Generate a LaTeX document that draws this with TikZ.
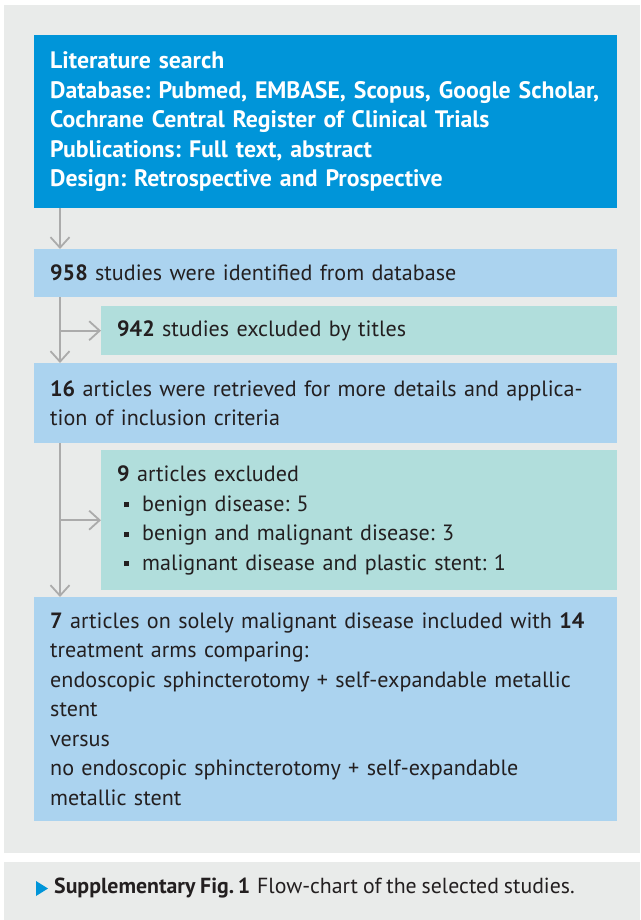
\documentclass[tikz,border=0pt]{standalone}
\usepackage{fontspec}
\setmainfont{PT Sans}[WordSpace=0.85]
\usetikzlibrary{arrows.meta}
\frenchspacing
\definecolor{topblue}{HTML}{0095D9}
\definecolor{lblue}{HTML}{ABD3EF}
\definecolor{lteal}{HTML}{B1DEDC}
\definecolor{panel}{HTML}{E9EBEA}
\definecolor{arrgray}{HTML}{ABABAB}
\definecolor{txt}{HTML}{231F20}
\tikzset{
  box/.style={anchor=north west, inner xsep=16pt, inner ysep=0pt, align=left,
    font=\fontsize{22.1}{29.5}\selectfont\frenchspacing, text=txt},
  widebox/.style={box, minimum width=583pt, text width=551pt},
  narrowbox/.style={box, minimum width=516pt, text width=484pt, fill=lteal},
  arr/.style={draw=arrgray, line width=1.8pt, -{Straight Barb[length=10.5pt,width=19pt]}},
}
\newcommand{\sqbul}{\hspace*{7pt}\rule[4pt]{5pt}{5pt}\hspace{13pt}}
\begin{document}
\begin{tikzpicture}[x=1pt,y=-1pt]
\useasboundingbox (0,0) rectangle (640,920);
\fill[white] (0,0) rectangle (640,920);
\fill[panel] (4,5) rectangle (640,853);
\fill[panel] (4,862) rectangle (640,920);

\node[widebox, fill=topblue, text=white, minimum height=173pt, font=\fontsize{23.8}{29.5}\selectfont\bfseries\frenchspacing] (top) at (34,35)
{Literature search\\
Database: Pubmed, EMBASE, Scopus, Google Scholar,\\
Cochrane Central Register of Clinical Trials\\
Publications: Full text, abstract\\
Design: Retrospective and Prospective};

\node[widebox, fill=lblue, minimum height=48pt] (n958) at (34,249)
{\textbf{958} studies were identified from database};

\node[narrowbox, minimum height=49pt] (n942) at (101,306)
{\textbf{942} studies excluded by titles};

\node[widebox, fill=lblue, minimum height=80pt] (n16) at (34,363)
{\textbf{16} articles were retrieved for more details and applica-\\
tion of inclusion criteria};

\node[narrowbox, minimum height=140pt] (n9) at (101,450)
{\textbf{9} articles excluded\\
\sqbul benign disease: 5\\
\sqbul benign and malignant disease: 3\\
\sqbul malignant disease and plastic stent: 1};

\node[widebox, fill=lblue, minimum height=224pt] (n7) at (34,597)
{\textbf{7} articles on solely malignant disease included with \textbf{14}\\
treatment arms comparing:\\
endoscopic sphincterotomy + self-expandable metallic\\
stent\\
versus\\
no endoscopic sphincterotomy + self-expandable\\
metallic stent};

\draw[arr] ([xshift=26pt]top.south west) -- ([xshift=26pt]n958.north west);
\draw[arr] ([xshift=26pt]n958.south west) -- ([xshift=26pt]n16.north west);
\draw[arr] ([xshift=26pt]n958.south west |- n942.west) -- (n942.west);
\draw[arr] ([xshift=26pt]n16.south west) -- ([xshift=26pt]n7.north west);
\draw[arr] ([xshift=26pt]n16.south west |- n9.west) -- (n9.west);

\fill[topblue] (36,881) -- (48,888.5) -- (36,896) -- cycle;
\node[anchor=west, inner sep=0pt, text=txt, font=\fontsize{21.8}{25}\selectfont] (cap) at (54,888)
{\textbf{Supplementary Fig.\,1}\hspace{7pt}Flow-chart of the selected studies.};
\end{tikzpicture}
\end{document}
